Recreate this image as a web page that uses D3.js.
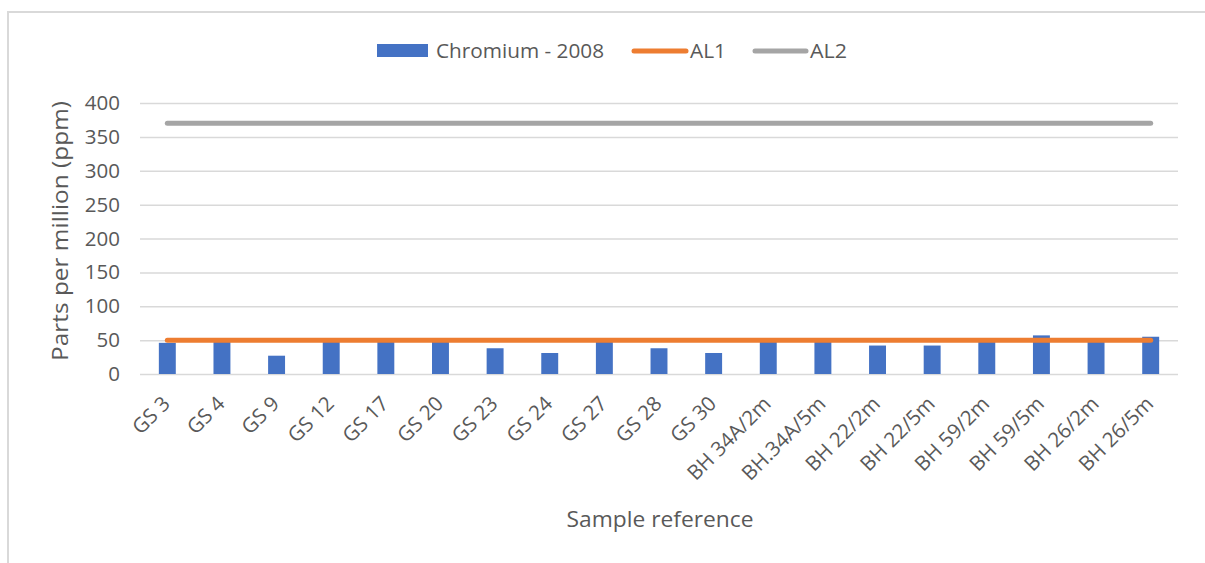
<!DOCTYPE html>
<html>
<head>
<meta charset="utf-8">
<script src="https://cdn.jsdelivr.net/npm/d3@7"></script>
<style>
  html, body { margin: 0; padding: 0; background: #fff; }
  svg { display: block; }
  text { font-family: "Open Sans", sans-serif; fill: #595959; }
</style>
</head>
<body>
<svg id="chart" width="1205" height="563"></svg>
<script>
// Sample references along the x axis
const samples = ["GS 3", "GS 4", "GS 9", "GS 12", "GS 17", "GS 20", "GS 23", "GS 24", "GS 27",
  "GS 28", "GS 30", "BH 34A/2m", "BH.34A/5m", "BH 22/2m", "BH 22/5m", "BH 59/2m", "BH 59/5m",
  "BH 26/2m", "BH 26/5m"];
// Chromium concentrations measured in 2008 (ppm)
const chromium2008 = [46, 48, 27, 48, 48, 49, 38, 31, 48, 38, 31, 48, 48, 42, 42, 48, 57, 48, 55];
// Assessment levels (ppm)
const al1 = samples.map(() => 50);
const al2 = samples.map(() => 370);
const yTicks = [0, 50, 100, 150, 200, 250, 300, 350, 400];

const svg = d3.select("#chart");
const W = 1205, H = 563;
const plot = { left: 140, right: 1178, top: 103, bottom: 374 };

// outer frame (only top and left edges fall inside the canvas)
svg.append("path")
  .attr("d", `M8,${H} L8,12 L${W},12`)
  .attr("fill", "none").attr("stroke", "#d9d9d9").attr("stroke-width", 2);

const x = d3.scaleBand().domain(samples).range([plot.left, plot.right]).paddingInner(0.69).paddingOuter(0.345);
const xc = d => x(d) + x.bandwidth() / 2;
const y = d3.scaleLinear().domain([0, 400]).range([plot.bottom, plot.top]);

// gridlines and y tick labels
const yAxis = d3.axisLeft(y).tickValues(yTicks).tickSize(-(plot.right - plot.left)).tickPadding(20);
const gy = svg.append("g").attr("transform", `translate(${plot.left},0)`).call(yAxis);
gy.select(".domain").remove();
gy.selectAll(".tick line").attr("stroke", "#d9d9d9").attr("stroke-width", 1.5);
gy.selectAll(".tick text").attr("font-size", 20.5).attr("fill", "#595959").attr("font-family", "Open Sans, sans-serif");

// bars
svg.append("g").selectAll("rect").data(samples).join("rect")
  .attr("x", d => x(d))
  .attr("width", x.bandwidth())
  .attr("y", (d, i) => y(chromium2008[i]))
  .attr("height", (d, i) => y(0) - y(chromium2008[i]))
  .attr("fill", "#4472c4");

// assessment level lines
const line = d3.line().x((d, i) => xc(samples[i])).y(d => y(d));
svg.append("path").datum(al2).attr("d", line)
  .attr("fill", "none").attr("stroke", "#a5a5a5").attr("stroke-width", 5).attr("stroke-linecap", "round");
svg.append("path").datum(al1).attr("d", line)
  .attr("fill", "none").attr("stroke", "#ed7d31").attr("stroke-width", 5).attr("stroke-linecap", "round");

// x tick labels, rotated
const xAxis = d3.axisBottom(x).tickSize(0).tickPadding(0);
const gx = svg.append("g").attr("transform", `translate(0,${plot.bottom})`).call(xAxis);
gx.select(".domain").remove();
gx.selectAll(".tick text")
  .attr("font-size", 20.5).attr("fill", "#595959").attr("font-family", "Open Sans, sans-serif")
  .attr("text-anchor", "end")
  .attr("y", 0).attr("dy", 0)
  .attr("transform", "translate(4,31) rotate(-45)");

// axis titles
svg.append("text").attr("x", 660).attr("y", 527).attr("text-anchor", "middle")
  .attr("font-size", 21).attr("textLength", 187).attr("lengthAdjust", "spacingAndGlyphs")
  .text("Sample reference");
svg.append("text").attr("transform", "translate(68,231) rotate(-90)").attr("text-anchor", "middle")
  .attr("font-size", 21).attr("textLength", 260).attr("lengthAdjust", "spacingAndGlyphs")
  .text("Parts per million (ppm)");

// legend
const lg = svg.append("g");
lg.append("rect").attr("x", 377).attr("y", 44).attr("width", 51).attr("height", 13).attr("fill", "#4472c4");
lg.append("text").attr("x", 436).attr("y", 58).attr("font-size", 20)
  .attr("textLength", 168).attr("lengthAdjust", "spacingAndGlyphs").text("Chromium - 2008");
lg.append("line").attr("x1", 634).attr("x2", 686).attr("y1", 51).attr("y2", 51)
  .attr("stroke", "#ed7d31").attr("stroke-width", 5).attr("stroke-linecap", "round");
lg.append("text").attr("x", 690).attr("y", 58).attr("font-size", 20)
  .attr("textLength", 36).attr("lengthAdjust", "spacingAndGlyphs").text("AL1");
lg.append("line").attr("x1", 755).attr("x2", 806).attr("y1", 51).attr("y2", 51)
  .attr("stroke", "#a5a5a5").attr("stroke-width", 5).attr("stroke-linecap", "round");
lg.append("text").attr("x", 810).attr("y", 58).attr("font-size", 20)
  .attr("textLength", 37).attr("lengthAdjust", "spacingAndGlyphs").text("AL2");
</script>
</body>
</html>
